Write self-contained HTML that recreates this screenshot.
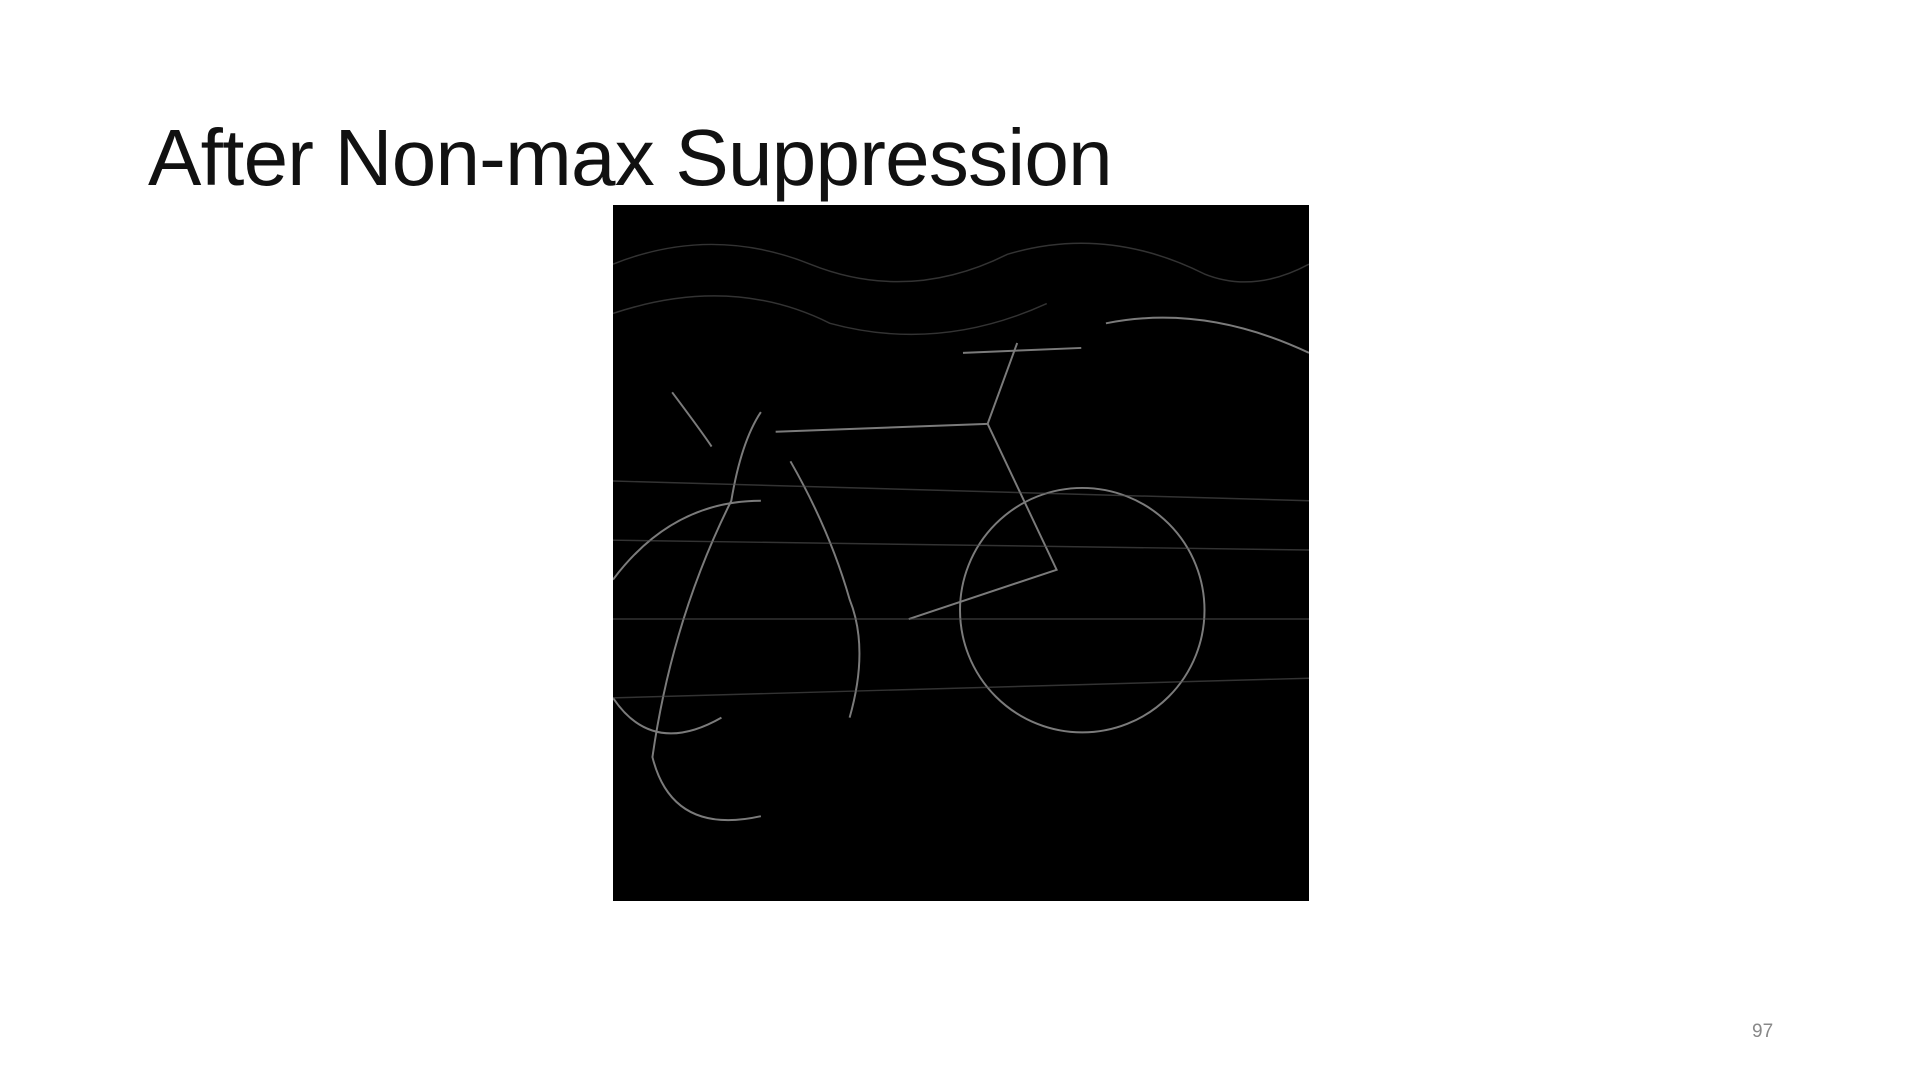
<!DOCTYPE html>
<html>
<head>
<meta charset="utf-8">
<style>
  html,body{margin:0;padding:0;background:#fff;}
  body{width:1920px;height:1080px;position:relative;overflow:hidden;font-family:"Liberation Sans",sans-serif;}
  #title{position:absolute;left:148px;top:112px;font-size:80px;font-weight:normal;color:#111;margin:0;letter-spacing:-0.75px;white-space:nowrap;}
  #edge-image{position:absolute;left:613px;top:205px;width:696px;height:696px;background:#000;}
  #page-number{position:absolute;left:1752px;top:1021px;font-size:19px;color:#888;}
</style>
</head>
<body>
<h1 id="title">After Non-max Suppression</h1>
<svg id="edge-image" viewBox="0 0 706 706" width="696" height="696">
  <rect x="0" y="0" width="706" height="706" fill="#000"/>
  <g fill="none" stroke="#9a9a9a" stroke-width="2" opacity="0.8">
    <circle cx="476" cy="411" r="124"/>
    <path d="M0 380 Q60 300 150 300" />
    <path d="M0 500 Q40 560 110 520" />
    <path d="M165 230 L380 222" />
    <path d="M380 222 L450 370 L300 420" />
    <path d="M410 140 L380 222" />
    <path d="M355 150 L475 145" />
    <path d="M60 190 Q90 230 100 245" />
    <path d="M150 210 Q130 240 120 300 Q60 420 40 560 Q60 640 150 620" />
    <path d="M180 260 Q220 330 240 400 Q260 450 240 520" />
    <path d="M500 120 Q600 100 706 150" />
  </g>
  <g fill="none" stroke="#555" stroke-width="1.5" opacity="0.6">
    <path d="M0 280 L706 300" />
    <path d="M0 340 L706 350" />
    <path d="M0 420 L706 420" />
    <path d="M0 500 L706 480" />
    <path d="M0 60 Q100 20 200 60 Q300 100 400 50 Q500 20 600 70 Q650 90 706 60" />
    <path d="M0 110 Q120 70 220 120 Q330 150 440 100" />
  </g>
</svg>
<div id="page-number">97</div>
</body>
</html>
